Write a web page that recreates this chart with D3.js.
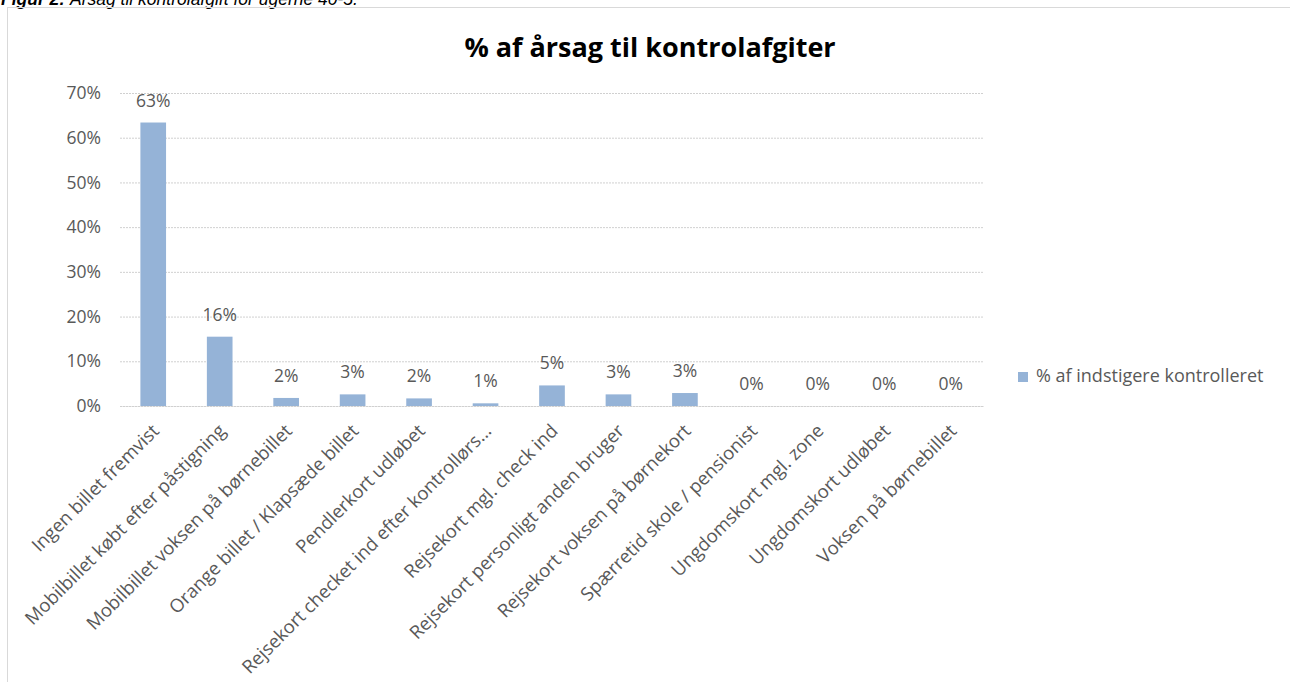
<!DOCTYPE html>
<html>
<head>
<meta charset="utf-8">
<script src="https://cdn.jsdelivr.net/npm/d3@7"></script>
<style>
  body { margin: 0; background: #fff; }
  svg { display: block; }
</style>
</head>
<body>
<div id="chart"></div>
<script>
// data
var categories = [
  'Ingen billet fremvist',
  'Mobilbillet købt efter påstigning',
  'Mobilbillet voksen på børnebillet',
  'Orange billet / Klapsæde billet',
  'Pendlerkort udløbet',
  'Rejsekort checket ind efter kontrollørs...',
  'Rejsekort mgl. check ind',
  'Rejsekort personligt anden bruger',
  'Rejsekort voksen på børnekort',
  'Spærretid skole / pensionist',
  'Ungdomskort mgl. zone',
  'Ungdomskort udløbet',
  'Voksen på børnebillet'
]

var values = [0.634, 0.155, 0.018, 0.026, 0.017, 0.006, 0.046, 0.026, 0.029, 0, 0, 0, 0]

var yTicks = [0, 0.1, 0.2, 0.3, 0.4, 0.5, 0.6, 0.7]

var seriesName = '% af indstigere kontrolleret'
var chartTitle = '% af årsag til kontrolafgiter'

var W = 1290
var H = 682
var textColor = '#595959'
var barColor = '#95b3d7'
var font = '"Open Sans", sans-serif'
var fontSize = 17.5

var svg = d3.select('#chart')
  .append('svg')
  .attr('width', W)
  .attr('height', H)

// caption, cut off at the top of the page like in the source
var cap = svg.append('text')
  .attr('x', 1)
  .attr('y', 5)
  .attr('font-family', 'Liberation Sans, Arial, sans-serif')
  .attr('font-size', 17.5)
  .attr('font-style', 'italic')
  .attr('fill', '#000')
cap.append('tspan').attr('font-weight', 'bold').text('Figur 2:')
cap.append('tspan').text(' Årsag til kontrolafgift for ugerne 40-5.')

// chart frame
svg.append('rect')
  .attr('x', 7.5)
  .attr('y', 7.5)
  .attr('width', W + 20)
  .attr('height', H + 20)
  .attr('fill', 'none')
  .attr('stroke', '#d9d9d9')

// title
svg.append('text')
  .attr('x', 650)
  .attr('y', 57)
  .attr('text-anchor', 'middle')
  .attr('font-family', font)
  .attr('font-weight', 'bold')
  .attr('font-size', 27)
  .attr('fill', '#000')
  .text(chartTitle)

var plotLeft = 120
var plotRight = 984

var x = d3.scaleBand()
  .domain(categories)
  .range([plotLeft, plotRight])
  .paddingInner(0.614)
  .paddingOuter(0.307)

var y = d3.scaleLinear()
  .domain([0, 0.7])
  .range([406, 93])

// y axis + gridlines
var yAxis = d3.axisLeft(y)
  .tickValues(yTicks)
  .tickFormat(d3.format('.0%'))
  .tickSize(-(plotRight - plotLeft))
  .tickPadding(19)

var yg = svg.append('g')
  .attr('class', 'axis y-axis')
  .attr('transform', 'translate(' + plotLeft + ',0)')
  .call(yAxis)

yg.select('.domain').remove()
yg.selectAll('line')
  .attr('stroke', '#d0d0d0')
  .attr('stroke-dasharray', '2,1')
yg.selectAll('text')
  .attr('font-family', font)
  .attr('font-size', fontSize)
  .attr('fill', textColor)

// bars
svg.selectAll('.bar')
  .data(values)
  .enter()
  .append('rect')
  .attr('class', 'bar')
  .attr('x', (d, i) => x(categories[i]))
  .attr('y', d => y(d))
  .attr('width', x.bandwidth())
  .attr('height', d => y(0) - y(d))
  .attr('fill', barColor)

// data labels
svg.selectAll('.value-label')
  .data(values)
  .enter()
  .append('text')
  .attr('class', 'value-label')
  .attr('x', (d, i) => x(categories[i]) + x.bandwidth() / 2)
  .attr('y', d => y(d) - 16)
  .attr('text-anchor', 'middle')
  .attr('font-family', font)
  .attr('font-size', fontSize)
  .attr('fill', textColor)
  .text(d => d3.format('.0%')(d))

// category labels, rotated
var xAxis = d3.axisBottom(x).tickSize(0).tickPadding(0)
var xg = svg.append('g')
  .attr('class', 'axis x-axis')
  .attr('transform', 'translate(0,' + y(0) + ')')
  .call(xAxis)

xg.select('.domain')
  .attr('stroke', '#d0d0d0')
  .attr('stroke-dasharray', '2,1')
xg.selectAll('text')
  .attr('font-family', font)
  .attr('font-size', 18.5)
  .attr('fill', textColor)
  .attr('text-anchor', 'end')
  .attr('x', 0)
  .attr('y', 0)
  .attr('dy', 0)
  .attr('transform', 'translate(7,26) rotate(-45)')

// legend
var legend = svg.append('g')
  .attr('transform', 'translate(1018,372)')

legend.append('rect')
  .attr('width', 10)
  .attr('height', 10)
  .attr('fill', barColor)

legend.append('text')
  .attr('x', 18)
  .attr('y', 10)
  .attr('font-family', font)
  .attr('font-size', 18)
  .attr('fill', textColor)
  .text(seriesName)
</script>
</body>
</html>
